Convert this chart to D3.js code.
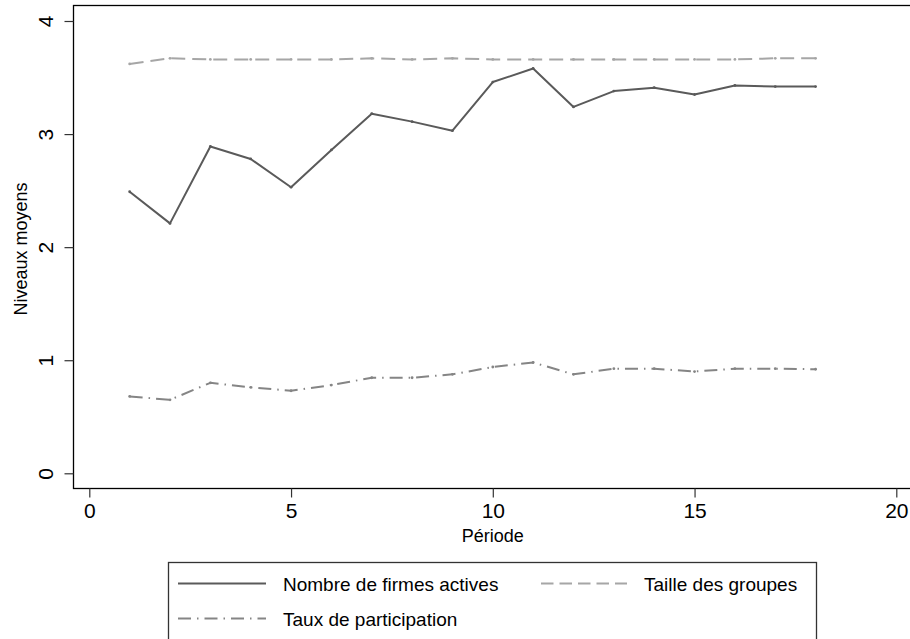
<!DOCTYPE html>
<html>
<head>
<meta charset="utf-8">
<script src="https://cdn.jsdelivr.net/npm/d3@7"></script>
<style>
  html, body { margin: 0; padding: 0; background: #fff; }
  svg { display: block; font-family: "Liberation Sans", Arial, Helvetica, sans-serif; }
</style>
</head>
<body>
<svg id="chart" width="910" height="639"></svg>
<script>
// ---- Data ----
const periods = [1,2,3,4,5,6,7,8,9,10,11,12,13,14,15,16,17,18];
const firmesActives = [2.49,2.21,2.89,2.78,2.53,2.86,3.18,3.11,3.03,3.46,3.58,3.24,3.38,3.41,3.35,3.43,3.42,3.42];
const tailleGroupes = [3.62,3.67,3.66,3.66,3.66,3.66,3.67,3.66,3.67,3.66,3.66,3.66,3.66,3.66,3.66,3.66,3.67,3.67];
const tauxParticipation = [0.68,0.65,0.80,0.76,0.73,0.78,0.845,0.845,0.875,0.94,0.98,0.875,0.925,0.925,0.90,0.925,0.925,0.92];
const xTicks = [0,5,10,15,20];
const yTicks = [0,1,2,3,4];
const seriesNames = ["Nombre de firmes actives","Taille des groupes","Taux de participation"];
const xTitle = "Période";
const yTitle = "Niveaux moyens";

// ---- Layout ----
const svg = d3.select("#chart");
const frame = {left: 73.5, top: 5.5, right: 912, bottom: 488.5};
const x = d3.scaleLinear().domain([0,20]).range([89.3, 896.3]);
const y = d3.scaleLinear().domain([0,4]).range([473.3, 21]);

const styles = [
  {color:"#5a5a5a", dash:null, legendDash:null, width:2},
  {color:"#a6a6a6", dash:"14,7", legendDash:"12.5,6", width:2},
  {color:"#858585", dash:"13,6,1.5,6", legendDash:"13,6,1.5,6", width:2}
];
const seriesData = [firmesActives, tailleGroupes, tauxParticipation];

// frame
svg.append("rect")
  .attr("x", frame.left).attr("y", frame.top)
  .attr("width", frame.right - frame.left).attr("height", frame.bottom - frame.top)
  .attr("fill","none").attr("stroke","#000").attr("stroke-width",1.3);

// axes
const xAxis = d3.axisBottom(x).tickValues(xTicks).tickSize(9).tickPadding(6).tickFormat(d3.format("d"));
const gx = svg.append("g").attr("transform",`translate(0,${frame.bottom})`).call(xAxis);
gx.select(".domain").remove();
gx.selectAll(".tick line").attr("stroke","#333").attr("stroke-width",1.2);
gx.selectAll(".tick text").attr("font-size",21).attr("fill","#000")
  .attr("font-family",'"Liberation Sans", Arial, sans-serif');

const yAxis = d3.axisLeft(y).tickValues(yTicks).tickSize(9).tickPadding(0).tickFormat(d3.format("d"));
const gy = svg.append("g").attr("transform",`translate(${frame.left},0)`).call(yAxis);
gy.select(".domain").remove();
gy.selectAll(".tick line").attr("stroke","#333").attr("stroke-width",1.2);
gy.selectAll(".tick text")
  .attr("font-size",21).attr("fill","#000")
  .attr("font-family",'"Liberation Sans", Arial, sans-serif')
  .attr("x",0).attr("y",0).attr("dy",null)
  .attr("text-anchor","middle")
  .attr("transform","translate(-20.5,0) rotate(-90)");

// titles
svg.append("text").attr("x", (frame.left+frame.right)/2).attr("y", 542)
  .attr("text-anchor","middle").attr("font-size",18).text(xTitle);
svg.append("text").attr("transform",`translate(27,249) rotate(-90)`)
  .attr("text-anchor","middle").attr("font-size",18).text(yTitle);

// lines
const line = d3.line().x((d,i)=>x(periods[i])).y(d=>y(d));
seriesData.forEach((vals,k)=>{
  const s = styles[k];
  svg.append("path").datum(vals)
    .attr("d", line).attr("fill","none")
    .attr("stroke", s.color).attr("stroke-width", s.width)
    .attr("stroke-linejoin","round")
    .attr("stroke-dasharray", s.dash);
  svg.append("g").selectAll("circle").data(vals).join("circle")
    .attr("cx",(d,i)=>x(periods[i])).attr("cy",d=>y(d)).attr("r",1.4)
    .attr("fill", s.color);
});

// legend
const lg = svg.append("g");
lg.append("rect").attr("x",168.5).attr("y",562.5).attr("width",648).attr("height",90)
  .attr("fill","#fff").attr("stroke","#333").attr("stroke-width",1.3);
const legendItems = [
  {k:0, x1:178, x2:266, tx:283, ty:583.5},
  {k:1, x1:541, x2:627, tx:644, ty:583.5},
  {k:2, x1:178, x2:266, tx:283, ty:618.5}
];
legendItems.forEach(it=>{
  const s = styles[it.k];
  lg.append("line").attr("x1",it.x1).attr("x2",it.x2).attr("y1",it.ty).attr("y2",it.ty)
    .attr("stroke",s.color).attr("stroke-width",s.width).attr("stroke-dasharray",s.legendDash);
  lg.append("text").attr("x",it.tx).attr("y",it.ty + 7).attr("font-size",19)
    .attr("fill","#000").text(seriesNames[it.k]);
});
</script>
</body>
</html>
